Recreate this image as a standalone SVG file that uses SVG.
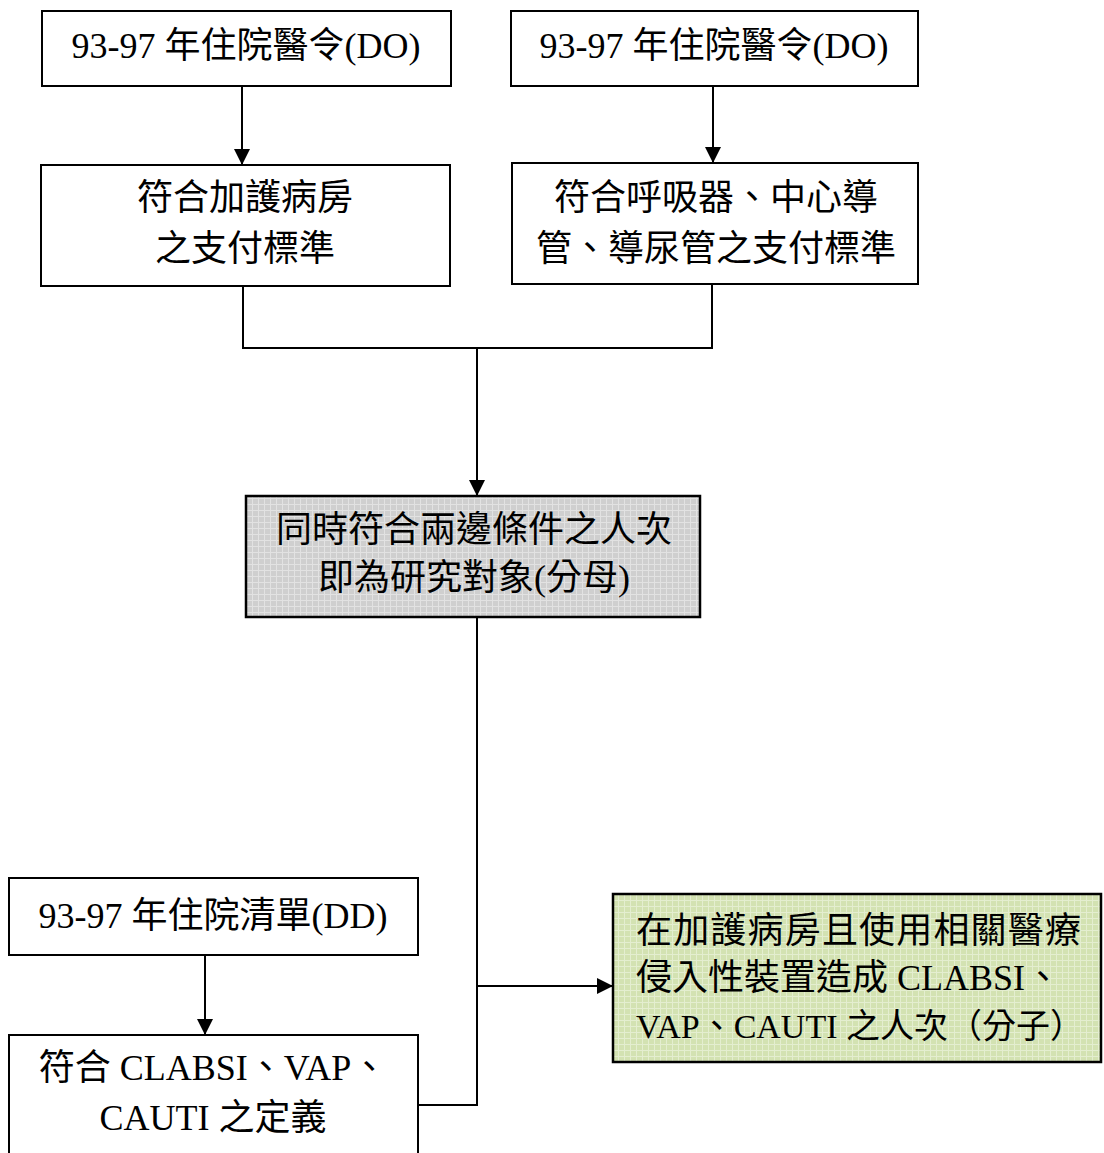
<svg xmlns="http://www.w3.org/2000/svg" width="1104" height="1153" viewBox="0 0 1104 1153">
<style>
.box{fill:#ffffff;stroke:#000;stroke-width:2}
.t{font-family:"Liberation Serif","Noto Sans CJK TC",serif;font-size:36px;fill:#000}
.c{text-anchor:middle}
.ln{fill:none;stroke:#000;stroke-width:2}
</style>
<defs>
<marker id="ah" viewBox="0 0 16 16" refX="16" refY="8" markerWidth="16" markerHeight="16" markerUnits="userSpaceOnUse" orient="auto">
<path d="M0,0 L16,8 L0,16 Z" fill="#000"/>
</marker>
<pattern id="pg" width="6" height="6" patternUnits="userSpaceOnUse">
<rect width="6" height="6" fill="#cfcfcf"/>
<path d="M0,0.5 H6 M0.5,0 V6" stroke="#e2e2e2" stroke-width="1"/>
</pattern>
<pattern id="pn" width="6" height="6" patternUnits="userSpaceOnUse">
<rect width="6" height="6" fill="#d3e2b2"/>
<path d="M0,0.5 H6 M0.5,0 V6" stroke="#e4eed0" stroke-width="1"/>
</pattern>
</defs>

<g id="connectors">
<line class="ln" x1="242" y1="86" x2="242" y2="165" marker-end="url(#ah)"/>
<line class="ln" x1="713" y1="86" x2="713" y2="163" marker-end="url(#ah)"/>
<polyline class="ln" points="243,286 243,348 712,348 712,284"/>
<line class="ln" x1="477" y1="348" x2="477" y2="496" marker-end="url(#ah)"/>
<line class="ln" x1="477" y1="617" x2="477" y2="1106"/>
<line class="ln" x1="418" y1="1105" x2="478" y2="1105"/>
<line class="ln" x1="477" y1="986" x2="613" y2="986" marker-end="url(#ah)"/>
<line class="ln" x1="205" y1="955" x2="205" y2="1035" marker-end="url(#ah)"/>
</g>

<g id="do-left">
<rect class="box" x="42" y="11" width="409" height="75"/>
<text class="t c" x="246" y="58">93-97 年住院醫令(DO)</text>
</g>

<g id="do-right">
<rect class="box" x="511" y="11" width="407" height="75"/>
<text class="t c" x="714" y="58">93-97 年住院醫令(DO)</text>
</g>

<g id="icu-criteria">
<rect class="box" x="41" y="165" width="409" height="121"/>
<text class="t c" x="245" y="210">符合加護病房</text>
<text class="t c" x="245" y="261">之支付標準</text>
</g>

<g id="device-criteria">
<rect class="box" x="512" y="163" width="406" height="121"/>
<text class="t c" x="716" y="210">符合呼吸器、中心導</text>
<text class="t c" x="716" y="261">管、導尿管之支付標準</text>
</g>

<g id="denominator">
<rect x="246" y="496" width="454" height="121" fill="url(#pg)" stroke="#000" stroke-width="2.5"/>
<text class="t c" x="474" y="542">同時符合兩邊條件之人次</text>
<text class="t c" x="474" y="590">即為研究對象(分母)</text>
</g>

<g id="dd">
<rect class="box" x="9" y="878" width="409" height="77"/>
<text class="t c" x="213" y="928">93-97 年住院清單(DD)</text>
</g>

<g id="definition">
<rect class="box" x="9" y="1035" width="409" height="130"/>
<text class="t c" x="213" y="1080">符合 CLABSI、VAP、</text>
<text class="t c" x="213" y="1130">CAUTI 之定義</text>
</g>

<g id="numerator">
<rect x="613" y="894" width="488" height="168" fill="url(#pn)" stroke="#000" stroke-width="2.5"/>
<text class="t" x="636" y="943" textLength="445" lengthAdjust="spacing">在加護病房且使用相關醫療</text>
<text class="t" x="636" y="990" textLength="425" lengthAdjust="spacing">侵入性裝置造成 CLABSI、</text>
<text class="t" x="636" y="1038" style="font-size:34px">VAP、CAUTI 之人次（分子）</text>
</g>
</svg>
